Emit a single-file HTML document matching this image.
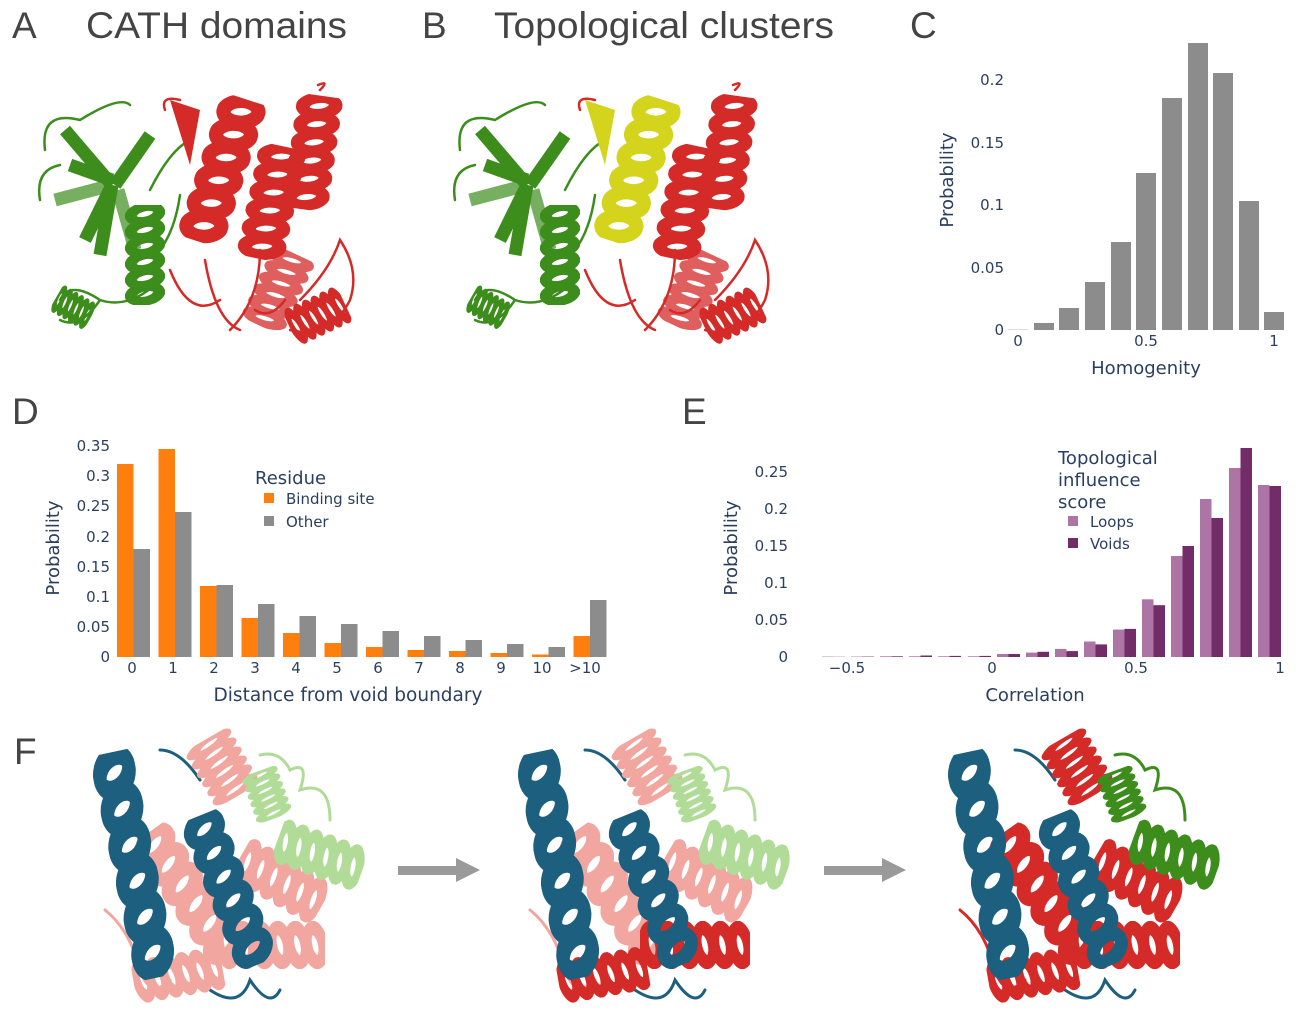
<!DOCTYPE html>
<html><head><meta charset="utf-8"><style>
html,body{margin:0;padding:0;background:#fff}
svg{display:block}
.t{font-family:"DejaVu Sans","Liberation Sans",sans-serif;fill:#2a3f5f}
.L{font-family:"Liberation Sans",sans-serif;fill:#444}
</style></head><body>
<svg width="1304" height="1022" viewBox="0 0 1304 1022" xmlns="http://www.w3.org/2000/svg">
<defs>
<symbol id="hx" viewBox="0 0 30 100" preserveAspectRatio="none">
<g fill="none" stroke="currentColor" stroke-width="9">
<ellipse cx="15" cy="9" rx="11" ry="7" transform="rotate(-20 15 9)"/>
<ellipse cx="15" cy="25" rx="11" ry="7" transform="rotate(-20 15 25)"/>
<ellipse cx="15" cy="41" rx="11" ry="7" transform="rotate(-20 15 41)"/>
<ellipse cx="15" cy="57" rx="11" ry="7" transform="rotate(-20 15 57)"/>
<ellipse cx="15" cy="73" rx="11" ry="7" transform="rotate(-20 15 73)"/>
<ellipse cx="15" cy="89" rx="11" ry="7" transform="rotate(-20 15 89)"/>
</g>
</symbol>
<g id="protA">
<g fill="none" stroke-linecap="round" stroke-width="2.5">
<path d="M45 150 Q40 110 80 120 Q120 95 130 105 M40 200 Q35 170 60 165 M60 300 Q70 280 100 300 Q130 310 160 280 M100 300 Q80 330 60 320" stroke="var(--g)"/>
<path d="M150 190 Q170 150 190 140 Q200 130 185 120 M160 250 Q175 230 180 195" stroke="var(--g)"/>
<path d="M165 110 Q160 95 180 100 M170 270 Q190 320 220 300 M205 260 Q215 320 240 330 M230 330 Q260 300 260 250 M300 300 Q330 270 340 240 Q360 270 350 300 Q330 340 290 330 M320 90 Q330 80 318 85 M255 310 Q270 320 285 300" stroke="var(--r)"/>
</g>
<g stroke="var(--g)" stroke-width="13" stroke-linecap="butt" fill="none">
<path d="M112 180 L70 165"/><path d="M112 185 L100 255"/><path d="M112 185 L85 240"/><path d="M112 185 L65 130"/><path d="M115 185 L150 135"/><path d="M118 190 L135 250" opacity=".7"/><path d="M112 185 L55 200" opacity=".7"/>
</g>
<use href="#hx" x="125" y="205" width="40" height="100" style="color:var(--g)"/>
<use href="#hx" x="60" y="290" width="30" height="40" transform="rotate(-60 72 310)" style="color:var(--g)"/>
<path d="M170 100 L200 110 L190 165 Z" fill="var(--y)"/>
<use href="#hx" x="198" y="95" width="48" height="150" transform="rotate(18 221 170)" style="color:var(--y)"/>
<use href="#hx" x="248" y="145" width="48" height="115" transform="rotate(12 271 200)" style="color:var(--r)"/>
<use href="#hx" x="290" y="95" width="46" height="115" transform="rotate(8 312 150)" style="color:var(--r)"/>
<use href="#hx" x="255" y="250" width="46" height="80" transform="rotate(25 278 290)" style="color:var(--r);opacity:.75"/>
<use href="#hx" x="298" y="285" width="40" height="60" transform="rotate(65 317 315)" style="color:var(--r)"/>
</g>
<g id="protF">
<g fill="none" stroke-width="3" stroke-linecap="round">
<path d="M5 180 Q30 200 40 240 Q50 270 70 250" stroke="var(--p1)"/>
<path d="M60 20 Q80 20 100 50 M110 260 Q140 280 150 250 Q170 280 180 260" stroke="var(--b)"/>
<path d="M160 25 Q180 20 190 40 Q210 30 200 60 Q230 50 230 90" stroke="var(--gr)"/>
</g>
<use href="#hx" x="96" y="5" width="52" height="65" transform="rotate(-30 122 37)" style="color:var(--p1)"/>
<use href="#hx" x="66" y="90" width="48" height="150" transform="rotate(-35 90 165)" style="color:var(--p1)"/>
<use href="#hx" x="155" y="105" width="48" height="95" transform="rotate(-60 179 150)" style="color:var(--p1)"/>
<use href="#hx" x="146" y="160" width="48" height="110" transform="rotate(90 170 215)" style="color:var(--p2)"/>
<use href="#hx" x="56" y="200" width="44" height="90" transform="rotate(80 78 245)" style="color:var(--p2)"/>
<use href="#hx" x="12" y="20" width="44" height="230" transform="rotate(-12 34 135)" style="color:var(--b)"/>
<use href="#hx" x="107" y="80" width="44" height="160" transform="rotate(-22 129 160)" style="color:var(--b)"/>
<use href="#hx" x="148" y="40" width="38" height="50" transform="rotate(-20 166 65)" style="color:var(--gr)"/>
<use href="#hx" x="197" y="80" width="46" height="90" transform="rotate(-70 220 125)" style="color:var(--gr)"/>
</g>
</defs>

<!-- Panel labels -->
<text class="L" x="12" y="38" font-size="37">A</text>
<text class="L" x="86" y="38" font-size="37" textLength="261" lengthAdjust="spacingAndGlyphs">CATH domains</text>
<text class="L" x="422" y="38" font-size="37">B</text>
<text class="L" x="494" y="38" font-size="37" textLength="340" lengthAdjust="spacingAndGlyphs">Topological clusters</text>
<text class="L" x="910" y="38" font-size="37">C</text>
<text class="L" x="12" y="424" font-size="37">D</text>
<text class="L" x="682" y="424" font-size="37">E</text>
<text class="L" x="14" y="764" font-size="37">F</text>

<use href="#protA" style="--g:#3c8d1c;--r:#d42a28;--y:#d42a28"/>
<use href="#protA" transform="translate(415,0)" style="--g:#3c8d1c;--r:#d42a28;--y:#d4d41c"/>

<!-- Chart C -->
<g fill="#8c8c8c">
<rect x="1008" y="329" width="20" height="1" fill="#ddd"/>
<rect x="1034" y="323" width="20" height="7"/>
<rect x="1059" y="308" width="20" height="22"/>
<rect x="1085" y="282" width="20" height="48"/>
<rect x="1111" y="242" width="20" height="88"/>
<rect x="1136" y="173" width="20" height="157"/>
<rect x="1162" y="98" width="20" height="232"/>
<rect x="1188" y="43" width="20" height="287"/>
<rect x="1213" y="73" width="20" height="257"/>
<rect x="1239" y="201" width="20" height="129"/>
<rect x="1264" y="312" width="20" height="18"/>
</g>
<g class="t" font-size="15" text-anchor="end">
<text x="1004" y="335">0</text><text x="1004" y="273">0.05</text><text x="1004" y="210">0.1</text><text x="1004" y="148">0.15</text><text x="1004" y="85">0.2</text>
</g>
<g class="t" font-size="15" text-anchor="middle">
<text x="1018" y="346">0</text><text x="1146" y="346">0.5</text><text x="1274" y="346">1</text>
<text x="1146" y="374" font-size="18">Homogenity</text>
<text transform="translate(953,180) rotate(-90)" font-size="18">Probability</text>
</g>

<!-- Chart D -->
<g>
<g fill="#ff7f0e">
<rect x="117" y="464" width="16.5" height="193"/>
<rect x="158.5" y="449" width="16.5" height="208"/>
<rect x="200" y="586" width="16.5" height="71"/>
<rect x="241.5" y="618" width="16.5" height="39"/>
<rect x="283" y="633" width="16.5" height="24"/>
<rect x="324.5" y="643" width="16.5" height="14"/>
<rect x="366" y="647" width="16.5" height="10"/>
<rect x="407.5" y="650" width="16.5" height="7"/>
<rect x="449" y="651" width="16.5" height="6"/>
<rect x="490.5" y="653" width="16.5" height="4"/>
<rect x="532" y="654.5" width="16.5" height="2.5"/>
<rect x="573.5" y="636" width="16.5" height="21"/>
</g>
<g fill="#8c8c8c">
<rect x="133.5" y="549" width="16.5" height="108"/>
<rect x="175" y="512" width="16.5" height="145"/>
<rect x="216.5" y="585" width="16.5" height="72"/>
<rect x="258" y="604" width="16.5" height="53"/>
<rect x="299.5" y="616" width="16.5" height="41"/>
<rect x="341" y="624" width="16.5" height="33"/>
<rect x="382.5" y="631" width="16.5" height="26"/>
<rect x="424" y="636" width="16.5" height="21"/>
<rect x="465.5" y="640" width="16.5" height="17"/>
<rect x="507" y="644" width="16.5" height="13"/>
<rect x="548.5" y="647" width="16.5" height="10"/>
<rect x="590" y="600" width="16.5" height="57"/>
</g>
<g class="t" font-size="15" text-anchor="end">
<text x="110" y="662">0</text><text x="110" y="632">0.05</text><text x="110" y="602">0.1</text><text x="110" y="572">0.15</text><text x="110" y="542">0.2</text><text x="110" y="511">0.25</text><text x="110" y="481">0.3</text><text x="110" y="451">0.35</text>
</g>
<g class="t" font-size="15" text-anchor="middle">
<text x="132" y="673">0</text><text x="173" y="673">1</text><text x="214" y="673">2</text><text x="255" y="673">3</text><text x="296" y="673">4</text><text x="337" y="673">5</text><text x="378" y="673">6</text><text x="419" y="673">7</text><text x="460" y="673">8</text><text x="501" y="673">9</text><text x="542" y="673">10</text><text x="585" y="673">&gt;10</text>
<text x="348" y="701" font-size="18.5">Distance from void boundary</text>
<text transform="translate(59,548) rotate(-90)" font-size="18">Probability</text>
</g>
<text class="t" x="255" y="484" font-size="18">Residue</text>
<rect x="264" y="493" width="10" height="10" fill="#ff7f0e"/>
<text class="t" x="286" y="504" font-size="15">Binding site</text>
<rect x="264" y="516" width="10" height="10" fill="#8c8c8c"/>
<text class="t" x="286" y="527" font-size="15">Other</text>
</g>

<!-- Chart E -->
<g>
<g fill="#ad74a6">
<rect x="822" y="656.6" width="11.5" height="0.4"/>
<rect x="851" y="656.6" width="11.5" height="0.4"/>
<rect x="880" y="656.3" width="11.5" height="0.7"/>
<rect x="909" y="656.3" width="11.5" height="0.7"/>
<rect x="938" y="656.3" width="11.5" height="0.7"/>
<rect x="968" y="656.3" width="11.5" height="0.7"/>
<rect x="997" y="654" width="11.5" height="3"/>
<rect x="1026" y="652.6" width="11.5" height="4.4"/>
<rect x="1055" y="648.9" width="11.5" height="8.1"/>
<rect x="1084" y="641.5" width="11.5" height="15.5"/>
<rect x="1113" y="629.6" width="11.5" height="27.4"/>
<rect x="1142" y="599.3" width="11.5" height="57.7"/>
<rect x="1171" y="556" width="11.5" height="101"/>
<rect x="1200" y="499" width="11.5" height="158"/>
<rect x="1229" y="468" width="11.5" height="189"/>
<rect x="1258" y="485" width="11.5" height="172"/>
</g>
<g fill="#722d68">
<rect x="833.5" y="656.8" width="11.5" height="0.2"/>
<rect x="862.5" y="656.6" width="11.5" height="0.4"/>
<rect x="891.5" y="656.3" width="11.5" height="0.7"/>
<rect x="920.5" y="655.5" width="11.5" height="1.5"/>
<rect x="949.5" y="655.9" width="11.5" height="1.1"/>
<rect x="979.5" y="655.9" width="11.5" height="1.1"/>
<rect x="1008.5" y="654" width="11.5" height="3"/>
<rect x="1037.5" y="651.8" width="11.5" height="5.2"/>
<rect x="1066.5" y="651.1" width="11.5" height="5.9"/>
<rect x="1095.5" y="644.4" width="11.5" height="12.6"/>
<rect x="1124.5" y="628.9" width="11.5" height="28.1"/>
<rect x="1153.5" y="605.2" width="11.5" height="51.8"/>
<rect x="1182.5" y="546" width="11.5" height="111"/>
<rect x="1211.5" y="518" width="11.5" height="139"/>
<rect x="1240.5" y="448" width="11.5" height="209"/>
<rect x="1269.5" y="486" width="11.5" height="171"/>
</g>
<g class="t" font-size="15" text-anchor="end">
<text x="788" y="662">0</text><text x="788" y="625">0.05</text><text x="788" y="588">0.1</text><text x="788" y="551">0.15</text><text x="788" y="514">0.2</text><text x="788" y="477">0.25</text>
</g>
<g class="t" font-size="15" text-anchor="middle">
<text x="847" y="673">−0.5</text><text x="992" y="673">0</text><text x="1136" y="673">0.5</text><text x="1280" y="673">1</text>
<text x="1035" y="701" font-size="18">Correlation</text>
<text transform="translate(737,548) rotate(-90)" font-size="18">Probability</text>
</g>
<g class="t" font-size="18">
<text x="1058" y="464">Topological</text>
<text x="1058" y="486">influence</text>
<text x="1058" y="508">score</text>
</g>
<rect x="1068" y="516" width="10" height="10" fill="#ad74a6"/>
<text class="t" x="1090" y="527" font-size="15">Loops</text>
<rect x="1068" y="538" width="10" height="10" fill="#722d68"/>
<text class="t" x="1090" y="549" font-size="15">Voids</text>
</g>

<!-- Panel F -->
<use href="#protF" transform="translate(100,730)" style="--b:#1c5f7e;--p1:#f2a6a0;--p2:#f2a6a0;--gr:#b0dc98"/>
<use href="#protF" transform="translate(525,730)" style="--b:#1c5f7e;--p1:#f2a6a0;--p2:#d42a28;--gr:#b0dc98"/>
<use href="#protF" transform="translate(955,730)" style="--b:#1c5f7e;--p1:#d42a28;--p2:#d42a28;--gr:#3c8d1c"/>
<g fill="#9a9a9a">
<rect x="398" y="866" width="60" height="9"/><polygon points="456,858 480,870 456,882"/>
<rect x="824" y="866" width="60" height="9"/><polygon points="882,858 906,870 882,882"/>
</g>
</svg>
</body></html>
